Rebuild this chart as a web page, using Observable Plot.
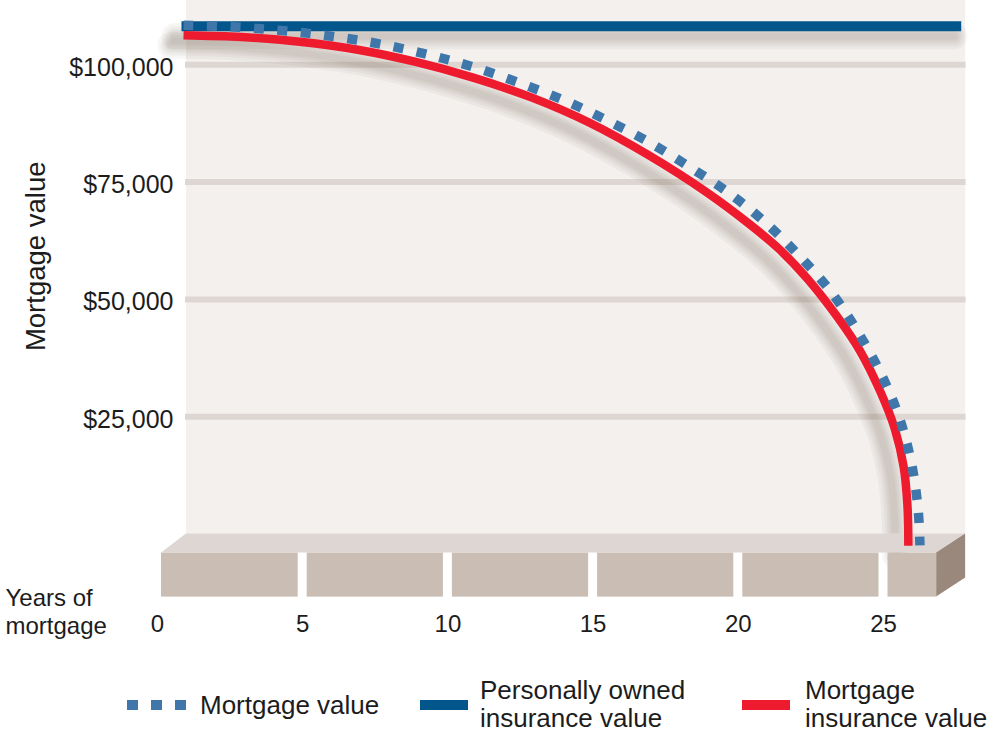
<!DOCTYPE html>
<html><head><meta charset="utf-8">
<script src="https://cdn.jsdelivr.net/npm/d3@7"></script>
<script src="https://cdn.jsdelivr.net/npm/@observablehq/plot@0.6"></script>
<style>
body{margin:0;background:#fff;font-family:"Liberation Sans",Arial,sans-serif;color:#1c1c1c}
#wrap{position:relative;width:997px;height:734px;overflow:hidden}
#legend{position:absolute;left:0;top:650px;width:997px;height:84px}
.item{position:absolute;font-size:26px;line-height:28px;white-space:nowrap}
.sw{position:absolute}
</style></head><body>
<div id="wrap"><div id="chart"></div><div id="legend"></div></div>
<script>
// ---- data ----
const xTicks = [0, 5, 10, 15, 20, 25];
const yTicks = [25000, 50000, 75000, 100000];
const seriesNames = ["Mortgage value", "Personally owned\ninsurance value", "Mortgage\ninsurance value"];
const seriesColors = ["#3f77aa", "#03568b", "#ee1b2f"];

const mortgageYears  = [0, 1.9, 3.55, 5.19, 6.79, 8.4, 10.0, 11.58, 13.12, 14.61, 16.06, 17.46, 18.8, 20.07, 21.22, 22.3, 23.2, 24.0, 24.65, 25.07, 25.3, 25.36];
const mortgageValues = [108400, 108000, 107200, 106000, 104400, 102200, 99500, 96100, 92400, 88100, 83400, 78100, 72600, 66200, 59200, 51600, 43300, 34400, 24800, 15000, 5000, -2400];

const personalYears  = [0, 26.85];
const personalValues = [108200, 108200];

const mInsYears  = [0, 2, 4, 6, 8, 10, 12, 14, 16, 18, 19.5, 20.5, 21.5, 22.5, 23.3, 24.0, 24.5, 24.8, 24.93, 24.96];
const mInsValues = [106300, 105900, 104900, 103200, 100600, 97200, 93000, 87600, 80800, 72900, 66000, 60800, 54300, 46400, 39000, 30300, 22300, 14300, 6000, -2500];

const baseEndYear = 26.83;   // end of the brick base
const yTop = 113700;         // top of the wall

// ---- build ----
const zip = (xs, ys) => xs.map((x, i) => ({x, y: ys[i]}));
const mortgage = zip(mortgageYears, mortgageValues);
const personal = zip(personalYears, personalValues);
const mIns = zip(mInsYears, mInsValues);

const W = 997, H = 650;
const pxPerYear = 29.04, left = 157, xMax = 28;
const yZero = 533.6;
const depth = 29, lineShift = 26;

const bricks = xTicks.map((t, i) => [t, i < xTicks.length - 1 ? xTicks[i + 1] : baseEndYear]);

function base(index, {x, y}) {
  const g = d3.create("svg:g").attr("aria-label", "base");
  const top = y(0), front = top + 19, faceH = 44;
  const fl = x(0) + 4, fr = x(baseEndYear);
  const bl = fl + 25, br = fr + depth;
  g.append("path").attr("d", `M${fl},${front}L${bl},${top}L${br},${top}L${fr},${front}Z`).attr("fill", "#ded6d2");
  g.append("path").attr("d", `M${fr},${front}L${br},${top}L${br},${top + faceH}L${fr},${front + faceH}Z`).attr("fill", "#9a887c");
  bricks.forEach(([a, b], i) => {
    const x1 = i === 0 ? fl : x(a) + 4.5;
    const x2 = b === baseEndYear ? fr : x(b) - 4.5;
    g.append("rect").attr("x", x1).attr("y", front).attr("width", x2 - x1).attr("height", faceH).attr("fill", "#c9bdb4");
  });
  return g.node();
}

const lineOpts = {x: "x", y: "y", strokeLinecap: "butt", strokeLinejoin: "round"};

// soft shadow built from stacked translucent strokes
const shadowWidths = [26, 20, 15, 11, 7];
const shadow = (data, dx, dy, extra = {}) => shadowWidths.map(w =>
  Plot.line(data, {...lineOpts, ...extra, strokeLinecap: "round", dx, dy, stroke: "#6b5a50", strokeOpacity: 0.055, strokeWidth: w}));

const chart = Plot.plot({
  width: W, height: H,
  marginLeft: left, marginRight: W - (left + xMax * pxPerYear),
  marginTop: 0, marginBottom: H - yZero,
  x: {domain: [0, xMax]},
  y: {domain: [0, yTop]},
  style: {fontFamily: '"Liberation Sans", Arial, sans-serif', color: "#1c1c1c", background: "transparent", overflow: "visible"},
  marks: [
    Plot.rect([0], {x1: 0, x2: baseEndYear, y1: 0, y2: yTop, dx: depth, fill: "#f3f0ed"}),
    Plot.ruleY(yTicks, {x1: 0, x2: baseEndYear + 0.05, dx: depth - 1, stroke: "#ded6d2", strokeWidth: 6}),
    ...shadow(personal, lineShift - 9, 10),
    ...shadow(mIns, lineShift - 13, 10, {curve: "catmull-rom"}),
    base,
    Plot.line(personal, {...lineOpts, dx: lineShift - 2, stroke: seriesColors[1], strokeWidth: 10}),
    Plot.line(mIns, {...lineOpts, dx: lineShift, stroke: seriesColors[2], strokeWidth: 8.5, curve: "catmull-rom"}),
    Plot.line(mortgage, {...lineOpts, dx: lineShift, stroke: seriesColors[0], strokeWidth: 9.5, strokeDasharray: "10,13.5", curve: "catmull-rom"}),
    Plot.axisY(yTicks, {tickSize: 0, tickPadding: 0, dx: 16, dy: 3, tickFormat: d3.format("$,"), fontSize: 25, label: null}),
    Plot.axisX(xTicks, {tickSize: 0, tickPadding: 81, fontSize: 24, label: null}),
    Plot.text(["Mortgage value"], {text: d => d, frameAnchor: "left", textAnchor: "middle", dx: -121, dy: -11, rotate: -90, fontSize: 27.5}),
    Plot.text(["Years of\nmortgage"], {text: d => d, frameAnchor: "bottom-left", dx: -152, dy: 77, textAnchor: "start", lineAnchor: "middle", lineHeight: 1.16, fontSize: 24})
  ]
});

document.getElementById("chart").appendChild(chart);

// ---- legend ----
const legend = d3.select("#legend");
const items = [
  {sw: 127, tx: 200, dash: true},
  {sw: 420, tx: 480},
  {sw: 742, tx: 805}
];
items.forEach((it, i) => {
  const s = legend.append("svg").attr("class", "sw").style("left", it.sw + "px").style("top", "50px").attr("width", 60).attr("height", 10);
  s.append("line").attr("x1", 0).attr("x2", it.dash ? 59 : 48).attr("y1", 5).attr("y2", 5)
    .attr("stroke", seriesColors[i]).attr("stroke-width", 10)
    .attr("stroke-dasharray", it.dash ? "11,13" : null);
  const lines = seriesNames[i].split("\n");
  legend.append("div").attr("class", "item").style("left", it.tx + "px")
    .style("top", (lines.length === 1 ? 41 : 26) + "px").html(lines.join("<br>"));
});
</script>
</body></html>
